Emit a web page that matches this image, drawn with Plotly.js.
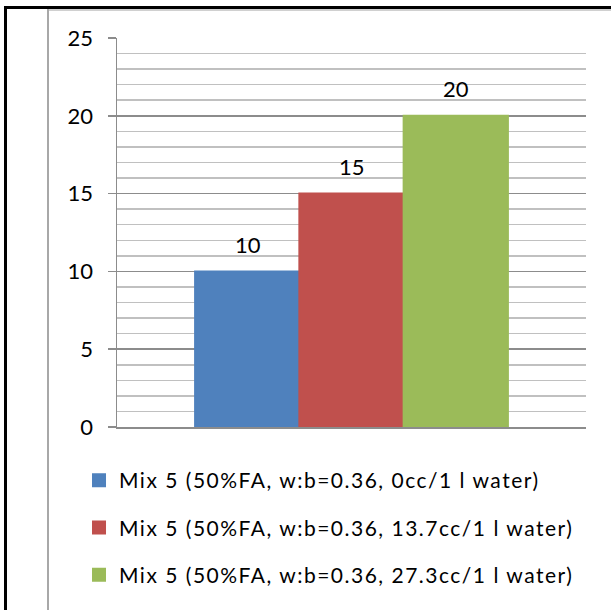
<!DOCTYPE html>
<html>
<head>
<meta charset="utf-8">
<script src="https://cdn.plot.ly/plotly-3.0.1.min.js"></script>
<style>
html,body{margin:0;padding:0;background:#fff;overflow:hidden;}
#wrap{position:relative;width:611px;height:610px;overflow:hidden;}
#chart{position:absolute;left:0;top:0;width:611px;height:610px;}
.legendtext{letter-spacing:1.5px;}
.fr{position:absolute;pointer-events:none;}
</style>
</head>
<body>
<div id="wrap">
<div id="chart"></div>
<div class="fr" style="left:4px;top:6px;width:607px;height:3px;background:#000;"></div>
<div class="fr" style="left:4px;top:6px;width:3px;height:604px;background:#000;"></div>
<div class="fr" style="left:47px;top:9px;width:564px;height:2px;background:#d0d0d0;"></div>
<div class="fr" style="left:47px;top:9px;width:2px;height:601px;background:#a8a8a8;"></div>
</div>
<script>
const categories = ["Mix 5"];
const seriesNames = [
  "Mix 5 (50%FA, w:b=0.36, 0cc/1 l water)",
  "Mix 5 (50%FA, w:b=0.36, 13.7cc/1 l water)",
  "Mix 5 (50%FA, w:b=0.36, 27.3cc/1 l water)"
];
const seriesValues = [[10], [15], [20]];
const seriesColors = ["#4F81BD", "#C0504D", "#9BBB59"];
const yTickVals = [0, 5, 10, 15, 20, 25];

const FONT = "Lato, 'Open Sans', sans-serif";

const traces = seriesNames.map((name, i) => ({
  type: "bar",
  name: name,
  x: categories,
  y: seriesValues[i],
  marker: {color: seriesColors[i], line: {width: 2, color: seriesColors[i]}},
  legendgroup: "g" + i,
  hoverinfo: "none"
}));

// data labels above each bar
const barPx = 104;
const annotations = [];
seriesValues.forEach((vals, i) => {
  vals.forEach((v, j) => {
    annotations.push({
      x: categories[j], y: v, xref: "x", yref: "y",
      text: String(v), showarrow: false,
      xshift: (i - (seriesValues.length - 1) / 2) * barPx,
      yshift: 27,
      font: {family: FONT, size: 22, color: "#000"}
    });
  });
});

const layout = {
  width: 611, height: 610,
  margin: {l: 117, r: 25, t: 38, b: 183, pad: 0},
  paper_bgcolor: "#fff", plot_bgcolor: "#fff",
  barmode: "group",
  bargap: 0.333, bargroupgap: 0,
  showlegend: true,
  font: {family: FONT, size: 22, color: "#000"},
  xaxis: {
    showticklabels: false, showgrid: false, zeroline: false,
    showline: true, linecolor: "#8c8c8c", linewidth: 1.5,
    ticks: ""
  },
  yaxis: {
    range: [0, 25], tickvals: yTickVals,
    showline: true, linecolor: "#8c8c8c", linewidth: 1.5,
    ticks: "outside", ticklen: 8, tickcolor: "#8c8c8c", tickwidth: 1.5,
    showgrid: true, gridcolor: "#8c8c8c", gridwidth: 1.5,
    zeroline: false,
    ticklabelstandoff: 10,
    tickfont: {family: FONT, size: 22, color: "#000"},
    minor: {dtick: 1, showgrid: true, gridcolor: "#c0c0c0", gridwidth: 1.5, ticks: ""}
  },
  legend: {
    orientation: "v",
    x: -0.081, xanchor: "left",
    y: -0.085, yanchor: "top",
    traceorder: "grouped",
    tracegroupgap: 17,
    font: {family: FONT, size: 21, color: "#000"},
    bgcolor: "rgba(0,0,0,0)"
  },
  annotations: annotations
};

Plotly.newPlot("chart", traces, layout, {staticPlot: true, displayModeBar: false});
</script>
</body>
</html>
